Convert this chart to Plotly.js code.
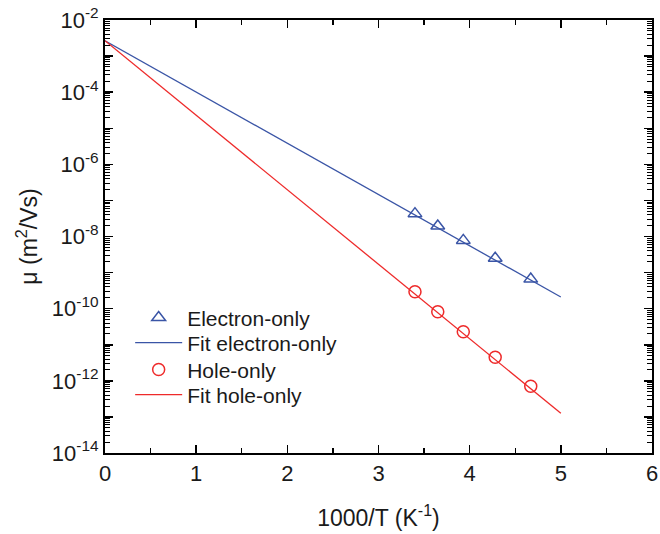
<!DOCTYPE html>
<html>
<head>
<meta charset="utf-8">
<script src="https://cdn.plot.ly/plotly-3.0.1.min.js"></script>
<style>html,body{margin:0;padding:0;background:#fff;}#chart{width:660px;height:534px;}</style>
</head>
<body>
<div id="chart"></div>
<script>
// Data
const electronX = [3.40, 3.65, 3.93, 4.28, 4.67];
const electronY = [4.3e-8, 1.95e-8, 7.8e-9, 2.5e-9, 6.6e-10];
const holeX = [3.40, 3.65, 3.93, 4.28, 4.67];
const holeY = [2.95e-10, 8.2e-11, 2.3e-11, 4.5e-12, 7.1e-13];
const fitX = [0, 5];
const fitElectronY = [2.66e-3, 2.1e-10];
const fitHoleY = [2.66e-3, 1.26e-13];
const decadeExps = [-14, -13, -12, -11, -10, -9, -8, -7, -6, -5, -4, -3, -2];
const xTicks = [0, 1, 2, 3, 4, 5, 6];
const seriesNames = ['Electron-only', 'Fit electron-only', 'Hole-only', 'Fit hole-only'];

const blue = '#3a55a6';
const red = '#ee2a2a';
const fontFam = 'Liberation Sans, Arial, sans-serif';
const txt = '#1a1a1a';

const yTickVals = decadeExps.map(e => Math.pow(10, e));
const yTickText = decadeExps.map(e => (e % 2 === 0) ? '10<sup>' + e + '</sup>' : '');

const traces = [
  {x: electronX, y: electronY, type: 'scatter', mode: 'markers', name: seriesNames[0], legend: 'legend',
   marker: {symbol: 'triangle-up-open', size: 12, color: blue, line: {width: 1.5, color: blue}}},
  {x: fitX, y: fitElectronY, type: 'scatter', mode: 'lines', name: seriesNames[1], legend: 'legend2',
   line: {color: blue, width: 1.3}},
  {x: holeX, y: holeY, type: 'scatter', mode: 'markers', name: seriesNames[2], legend: 'legend3',
   marker: {symbol: 'circle-open', size: 12, color: red, line: {width: 1.5, color: red}}},
  {x: fitX, y: fitHoleY, type: 'scatter', mode: 'lines', name: seriesNames[3], legend: 'legend4',
   line: {color: red, width: 1.3}}
];

function leg(yc) {
  return {x: 0.046, y: yc, xanchor: 'left', yanchor: 'middle',
          font: {size: 21, family: fontFam, color: txt}, bgcolor: 'rgba(0,0,0,0)',
          itemwidth: 47, borderwidth: 0};
}

const layout = {
  width: 660, height: 534,
  margin: {l: 105, r: 8, t: 20, b: 81},
  paper_bgcolor: '#fff', plot_bgcolor: '#fff',
  font: {family: fontFam, color: txt},
  showlegend: true,
  legend: leg(0.312),
  legend2: leg(0.254),
  legend3: leg(0.192),
  legend4: leg(0.134),
  xaxis: {
    range: [0, 6], tickvals: xTicks, ticktext: xTicks.map(String),
    ticks: 'inside', ticklen: 8, tickwidth: 1.5, tickcolor: '#000',
    showline: true, linecolor: '#000', linewidth: 2, mirror: 'ticks',
    showgrid: false, zeroline: false,
    tickfont: {size: 22, family: fontFam, color: txt},
    minor: {dtick: 0.5, ticks: 'inside', ticklen: 5, tickwidth: 1.2, tickcolor: '#000', showgrid: false},
    title: {text: '1000/T (K<sup>-1</sup>)', font: {size: 23, family: fontFam, color: txt}, standoff: 24}
  },
  yaxis: {
    type: 'log', range: [-14, -2],
    tickvals: yTickVals, ticktext: yTickText,
    ticks: 'inside', ticklen: 8, tickwidth: 1.5, tickcolor: '#000',
    showline: true, linecolor: '#000', linewidth: 2, mirror: 'ticks',
    showgrid: false, zeroline: false,
    tickfont: {size: 22, family: fontFam, color: txt},
    minor: {dtick: 'D1', ticks: 'inside', ticklen: 5, tickwidth: 1, tickcolor: '#000', showgrid: false},
    title: {text: 'μ (m<sup>2</sup>/Vs)', font: {size: 23, family: fontFam, color: txt}, standoff: 8}
  }
};

Plotly.newPlot('chart', traces, layout, {displayModeBar: false, staticPlot: true});
</script>
</body>
</html>
